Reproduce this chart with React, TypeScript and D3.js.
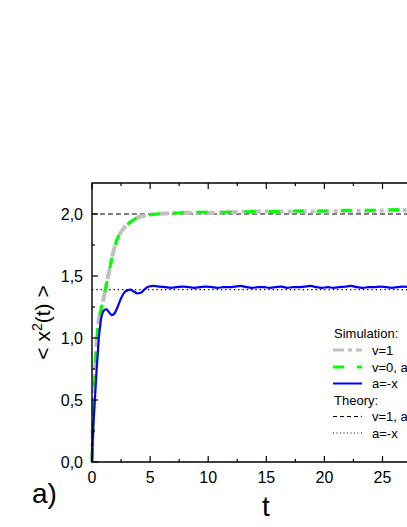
import React from "react";
import * as d3 from "d3";

const W = 407;
const H = 527;

// Simulation v=1 (grey dash-dot)
const grayT = [0, 0.05, 0.1, 0.2, 0.3, 0.43, 0.55, 0.7, 0.85, 0.95, 1.1, 1.26, 1.5, 1.8, 2.1, 2.4, 2.7, 3.0, 3.3, 3.7, 4.2, 4.7, 5.5, 6.5, 8, 10, 12, 14, 16, 18, 20, 22, 24, 26, 28, 30];
const grayV = [0, 0.2, 0.38, 0.62, 0.82, 1.01, 1.12, 1.2, 1.26, 1.3, 1.37, 1.44, 1.55, 1.68, 1.78, 1.84, 1.88, 1.91, 1.935, 1.96, 1.98, 1.99, 2.0, 2.005, 2.01, 2.01, 2.015, 2.02, 2.02, 2.02, 2.02, 2.025, 2.025, 2.03, 2.03, 2.03];

// Simulation v=0 (green dashed)
const greenT = [0, 0.05, 0.1, 0.2, 0.3, 0.43, 0.55, 0.7, 0.85, 0.95, 1.1, 1.26, 1.5, 1.8, 2.1, 2.4, 2.7, 3.0, 3.3, 3.7, 4.2, 4.7, 5.5, 6.5, 8, 10, 12, 14, 16, 18, 20, 22, 24, 26, 28, 30];
const greenV = [0, 0.2, 0.38, 0.62, 0.82, 1.01, 1.12, 1.2, 1.26, 1.31, 1.37, 1.44, 1.55, 1.68, 1.78, 1.84, 1.88, 1.91, 1.935, 1.96, 1.98, 1.99, 2.0, 2.005, 2.01, 2.015, 2.015, 2.02, 2.02, 2.025, 2.025, 2.03, 2.03, 2.035, 2.035, 2.035];

// Simulation a=-x (blue)
const blueT = [0, 0.05, 0.1, 0.18, 0.26, 0.4, 0.5, 0.58, 0.68, 0.77, 0.9, 1.05, 1.25, 1.45, 1.7, 1.95, 2.2, 2.5, 2.8, 3.05, 3.3, 3.6, 3.9, 4.2, 4.5, 4.9, 5.3, 5.8, 6.3, 6.8, 7.3, 7.8, 8.3, 8.8, 9.3, 9.8, 10.3, 10.8, 11.3, 11.8, 12.3, 12.8, 13.3, 13.8, 14.3, 14.8, 15.3, 15.8, 16.3, 16.8, 17.3, 17.8, 18.3, 18.8, 19.3, 19.8, 20.3, 20.8, 21.3, 21.8, 22.3, 22.8, 23.3, 23.8, 24.3, 24.8, 25.3, 25.8, 26.3, 26.8, 27.3, 27.8, 28.3, 28.8, 29.3, 30];
const blueV = [0, 0.14, 0.26, 0.4, 0.52, 0.75, 0.88, 0.99, 1.08, 1.15, 1.2, 1.225, 1.232, 1.21, 1.185, 1.2, 1.25, 1.32, 1.37, 1.385, 1.39, 1.375, 1.36, 1.365, 1.39, 1.415, 1.42, 1.415, 1.41, 1.405, 1.41, 1.415, 1.41, 1.405, 1.41, 1.415, 1.41, 1.405, 1.41, 1.41, 1.415, 1.42, 1.41, 1.405, 1.41, 1.41, 1.405, 1.41, 1.415, 1.405, 1.41, 1.41, 1.415, 1.42, 1.41, 1.405, 1.41, 1.405, 1.41, 1.415, 1.42, 1.41, 1.405, 1.41, 1.41, 1.415, 1.41, 1.405, 1.41, 1.415, 1.41, 1.405, 1.41, 1.415, 1.41, 1.41];

// Theory levels
const theoryFree = 2.0;
const theoryHarm = 1.39;

const xMajor = [0, 5, 10, 15, 20, 25, 30];
const xLabels = [0, 5, 10, 15, 20, 25];
const xMinor = [2.5, 7.5, 12.5, 17.5, 22.5, 27.5];
const yMajor = [0, 0.5, 1.0, 1.5, 2.0];
const yMinor = [0.25, 0.75, 1.25, 1.75];

const legendSim = ["v=1", "v=0, a=0", "a=-x"];
const legendTheory = ["v=1, a=0", "a=-x"];

export default function App() {
  const x = d3.scaleLinear().domain([0, 30]).range([92, 92 + 30 * 11.62]);
  const y = d3.scaleLinear().domain([0, 2.25]).range([462, 462 - 2.25 * 124]);
  const line = d3
    .line<[number, number]>()
    .x((d) => x(d[0]))
    .y((d) => y(d[1]))
    .curve(d3.curveMonotoneX);
  const zip = (a: number[], b: number[]) => a.map((t, i) => [t, b[i]] as [number, number]);
  const fmtY = (v: number) => d3.format(".1f")(v).replace(".", ",");
  const x0 = x(0), x1 = x(30), yb = y(0), yt = y(2.25);
  const font = "Liberation Sans, Arial, sans-serif";
  const lx0 = 333, lx1 = 362, ltx = 372;
  const lfs = 13;

  return (
    <svg
      width={W}
      height={H}
      style={{ position: "absolute", left: 0, top: 0, background: "#fff" }}
      fontFamily={font}
    >
      <rect width={W} height={H} fill="#fff" />
      {/* theory lines */}
      <line x1={x0} x2={x1} y1={y(theoryFree)} y2={y(theoryFree)} stroke="#000" strokeWidth={1.2} strokeDasharray="5,3" />
      <line x1={x0} x2={x1} y1={y(theoryHarm)} y2={y(theoryHarm)} stroke="#000" strokeWidth={1.3} strokeDasharray="1.3,3" />
      {/* simulation */}
      <path d={line(zip(grayT, grayV)) || ""} fill="none" stroke="#c0c0c0" strokeWidth={4} strokeDasharray="11,4,4,4" />
      <path d={line(zip(greenT, greenV)) || ""} fill="none" stroke="#00ff00" strokeWidth={3} strokeDasharray="11,13" strokeDashoffset={-3} />
      <path d={line(zip(blueT, blueV)) || ""} fill="none" stroke="#0000ff" strokeWidth={2.2} />
      {/* frame */}
      <path d={`M${x1},${yt}H${x0}V${yb}H${x1}`} fill="none" stroke="#000" strokeWidth={1.4} />
      {xMajor.map((t) => (
        <g key={"xm" + t}>
          <line x1={x(t)} x2={x(t)} y1={yb} y2={yb - 6} stroke="#000" strokeWidth={1.2} />
          <line x1={x(t)} x2={x(t)} y1={yt} y2={yt + 6} stroke="#000" strokeWidth={1.2} />
        </g>
      ))}
      {xLabels.map((t) => (
        <text key={"xl" + t} x={x(t)} y={483} fontSize={16} textAnchor="middle">{t}</text>
      ))}
      {xMinor.map((t) => (
        <g key={"xn" + t}>
          <line x1={x(t)} x2={x(t)} y1={yb} y2={yb - 3} stroke="#000" strokeWidth={1.2} />
          <line x1={x(t)} x2={x(t)} y1={yt} y2={yt + 3} stroke="#000" strokeWidth={1.2} />
        </g>
      ))}
      {yMajor.map((v) => (
        <g key={"ym" + v}>
          <line x1={x0} x2={x0 + 6} y1={y(v)} y2={y(v)} stroke="#000" strokeWidth={1.2} />
          <text x={83} y={y(v) + 6} fontSize={16} textAnchor="end">{fmtY(v)}</text>
        </g>
      ))}
      {yMinor.map((v) => (
        <line key={"yn" + v} x1={x0} x2={x0 + 3} y1={y(v)} y2={y(v)} stroke="#000" strokeWidth={1.2} />
      ))}
      {/* axis titles */}
      <text x={266} y={516} fontSize={28} textAnchor="middle">t</text>
      <text transform={`translate(50,${(yt + yb) / 2}) rotate(-90)`} fontSize={21} textAnchor="middle">
        {"< x"}
        <tspan dy={-8} fontSize={14}>2</tspan>
        <tspan dy={8}>{"(t) >"}</tspan>
      </text>
      <text x={32} y={503} fontSize={28}>a)</text>
      {/* legend */}
      <text x={334} y={338} fontSize={lfs}>Simulation:</text>
      <line x1={lx0} x2={lx1} y1={350} y2={350} stroke="#c0c0c0" strokeWidth={3} strokeDasharray="11,4,4,4" />
      <text x={ltx} y={354.5} fontSize={lfs}>{legendSim[0]}</text>
      <line x1={lx0} x2={lx1} y1={367} y2={367} stroke="#00ff00" strokeWidth={3} strokeDasharray="11,13" />
      <text x={ltx} y={371.5} fontSize={lfs}>{legendSim[1]}</text>
      <line x1={lx0} x2={lx1} y1={383.5} y2={383.5} stroke="#0000ff" strokeWidth={2} />
      <text x={ltx} y={388} fontSize={lfs}>{legendSim[2]}</text>
      <text x={334} y={404.5} fontSize={lfs}>Theory:</text>
      <line x1={lx0} x2={lx1} y1={416.5} y2={416.5} stroke="#000" strokeWidth={1} strokeDasharray="4,3" />
      <text x={ltx} y={421} fontSize={lfs}>{legendTheory[0]}</text>
      <line x1={lx0} x2={lx1} y1={433} y2={433} stroke="#000" strokeWidth={1} strokeDasharray="1,2.5" />
      <text x={ltx} y={437.5} fontSize={lfs}>{legendTheory[1]}</text>
    </svg>
  );
}
